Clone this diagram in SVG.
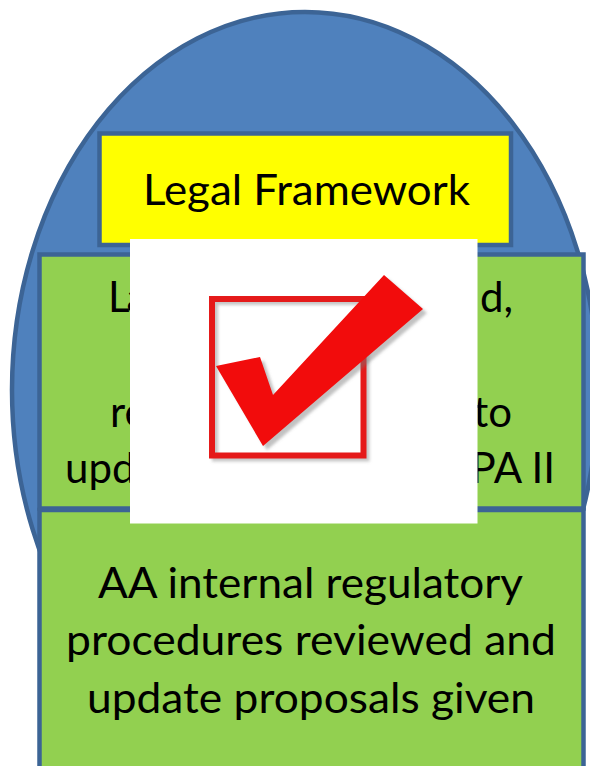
<svg xmlns="http://www.w3.org/2000/svg" width="590" height="766" viewBox="0 0 590 766">
<defs>
<filter id="sh" x="-10%" y="-10%" width="130%" height="130%">
<feGaussianBlur stdDeviation="1.8"/>
</filter>
</defs>
<style>
.box{stroke:#3C6495;stroke-width:4.5}
.t{font-family:Lato,"Open Sans","Liberation Sans",sans-serif;font-size:42px;fill:#000}
</style>
<rect width="590" height="766" fill="#fff"/>
<g id="ellipse"><ellipse cx="305" cy="390" rx="293" ry="378" fill="#4F81BD" stroke="#3C6495" stroke-width="4.5"/></g>
<g id="legal-framework">
<rect class="box" x="99.5" y="133.5" width="411.5" height="111.5" fill="#FFFF00"/>
<text class="t" x="143" y="205" textLength="327" lengthAdjust="spacingAndGlyphs">Legal Framework</text>
</g>
<g id="laws-box">
<rect class="box" x="39.5" y="254.5" width="544" height="254" fill="#92D050"/>
<text class="t" x="108" y="312" letter-spacing="-3">La</text>
<text class="t" x="513" y="312" text-anchor="end">d,</text>
<text class="t" x="110" y="427">re</text>
<text class="t" x="512" y="427" text-anchor="end">to</text>
<text class="t" x="65" y="483">upd</text>
<text class="t" x="555" y="483" text-anchor="end">PA II</text>
</g>
<g id="aa-box">
<rect class="box" x="39.5" y="510" width="544" height="262" fill="#92D050"/>
<text class="t" x="98" y="598" textLength="425" lengthAdjust="spacingAndGlyphs">AA internal regulatory</text>
<text class="t" x="66" y="655" textLength="490" lengthAdjust="spacingAndGlyphs">procedures reviewed and</text>
<text class="t" x="87" y="713" textLength="448" lengthAdjust="spacingAndGlyphs">update proposals given</text>
</g>
<g id="checkmark">
<rect x="130" y="239" width="347.5" height="284.5" fill="#fff"/>
<rect x="215" y="302" width="151.5" height="156.5" fill="none" stroke="#808080" stroke-opacity="0.45" stroke-width="6" filter="url(#sh)"/>
<rect x="212" y="299" width="151.5" height="156.5" fill="none" stroke="#E51A1A" stroke-width="6"/>
<polygon points="220,370 264,361 277,399 388,279 427,313 267,450" fill="#777" fill-opacity="0.45" filter="url(#sh)"/>
<polygon points="216,366 260,357 273,395 384,275 423,309 263,446" fill="#F20C0C"/>
</g>
</svg>
